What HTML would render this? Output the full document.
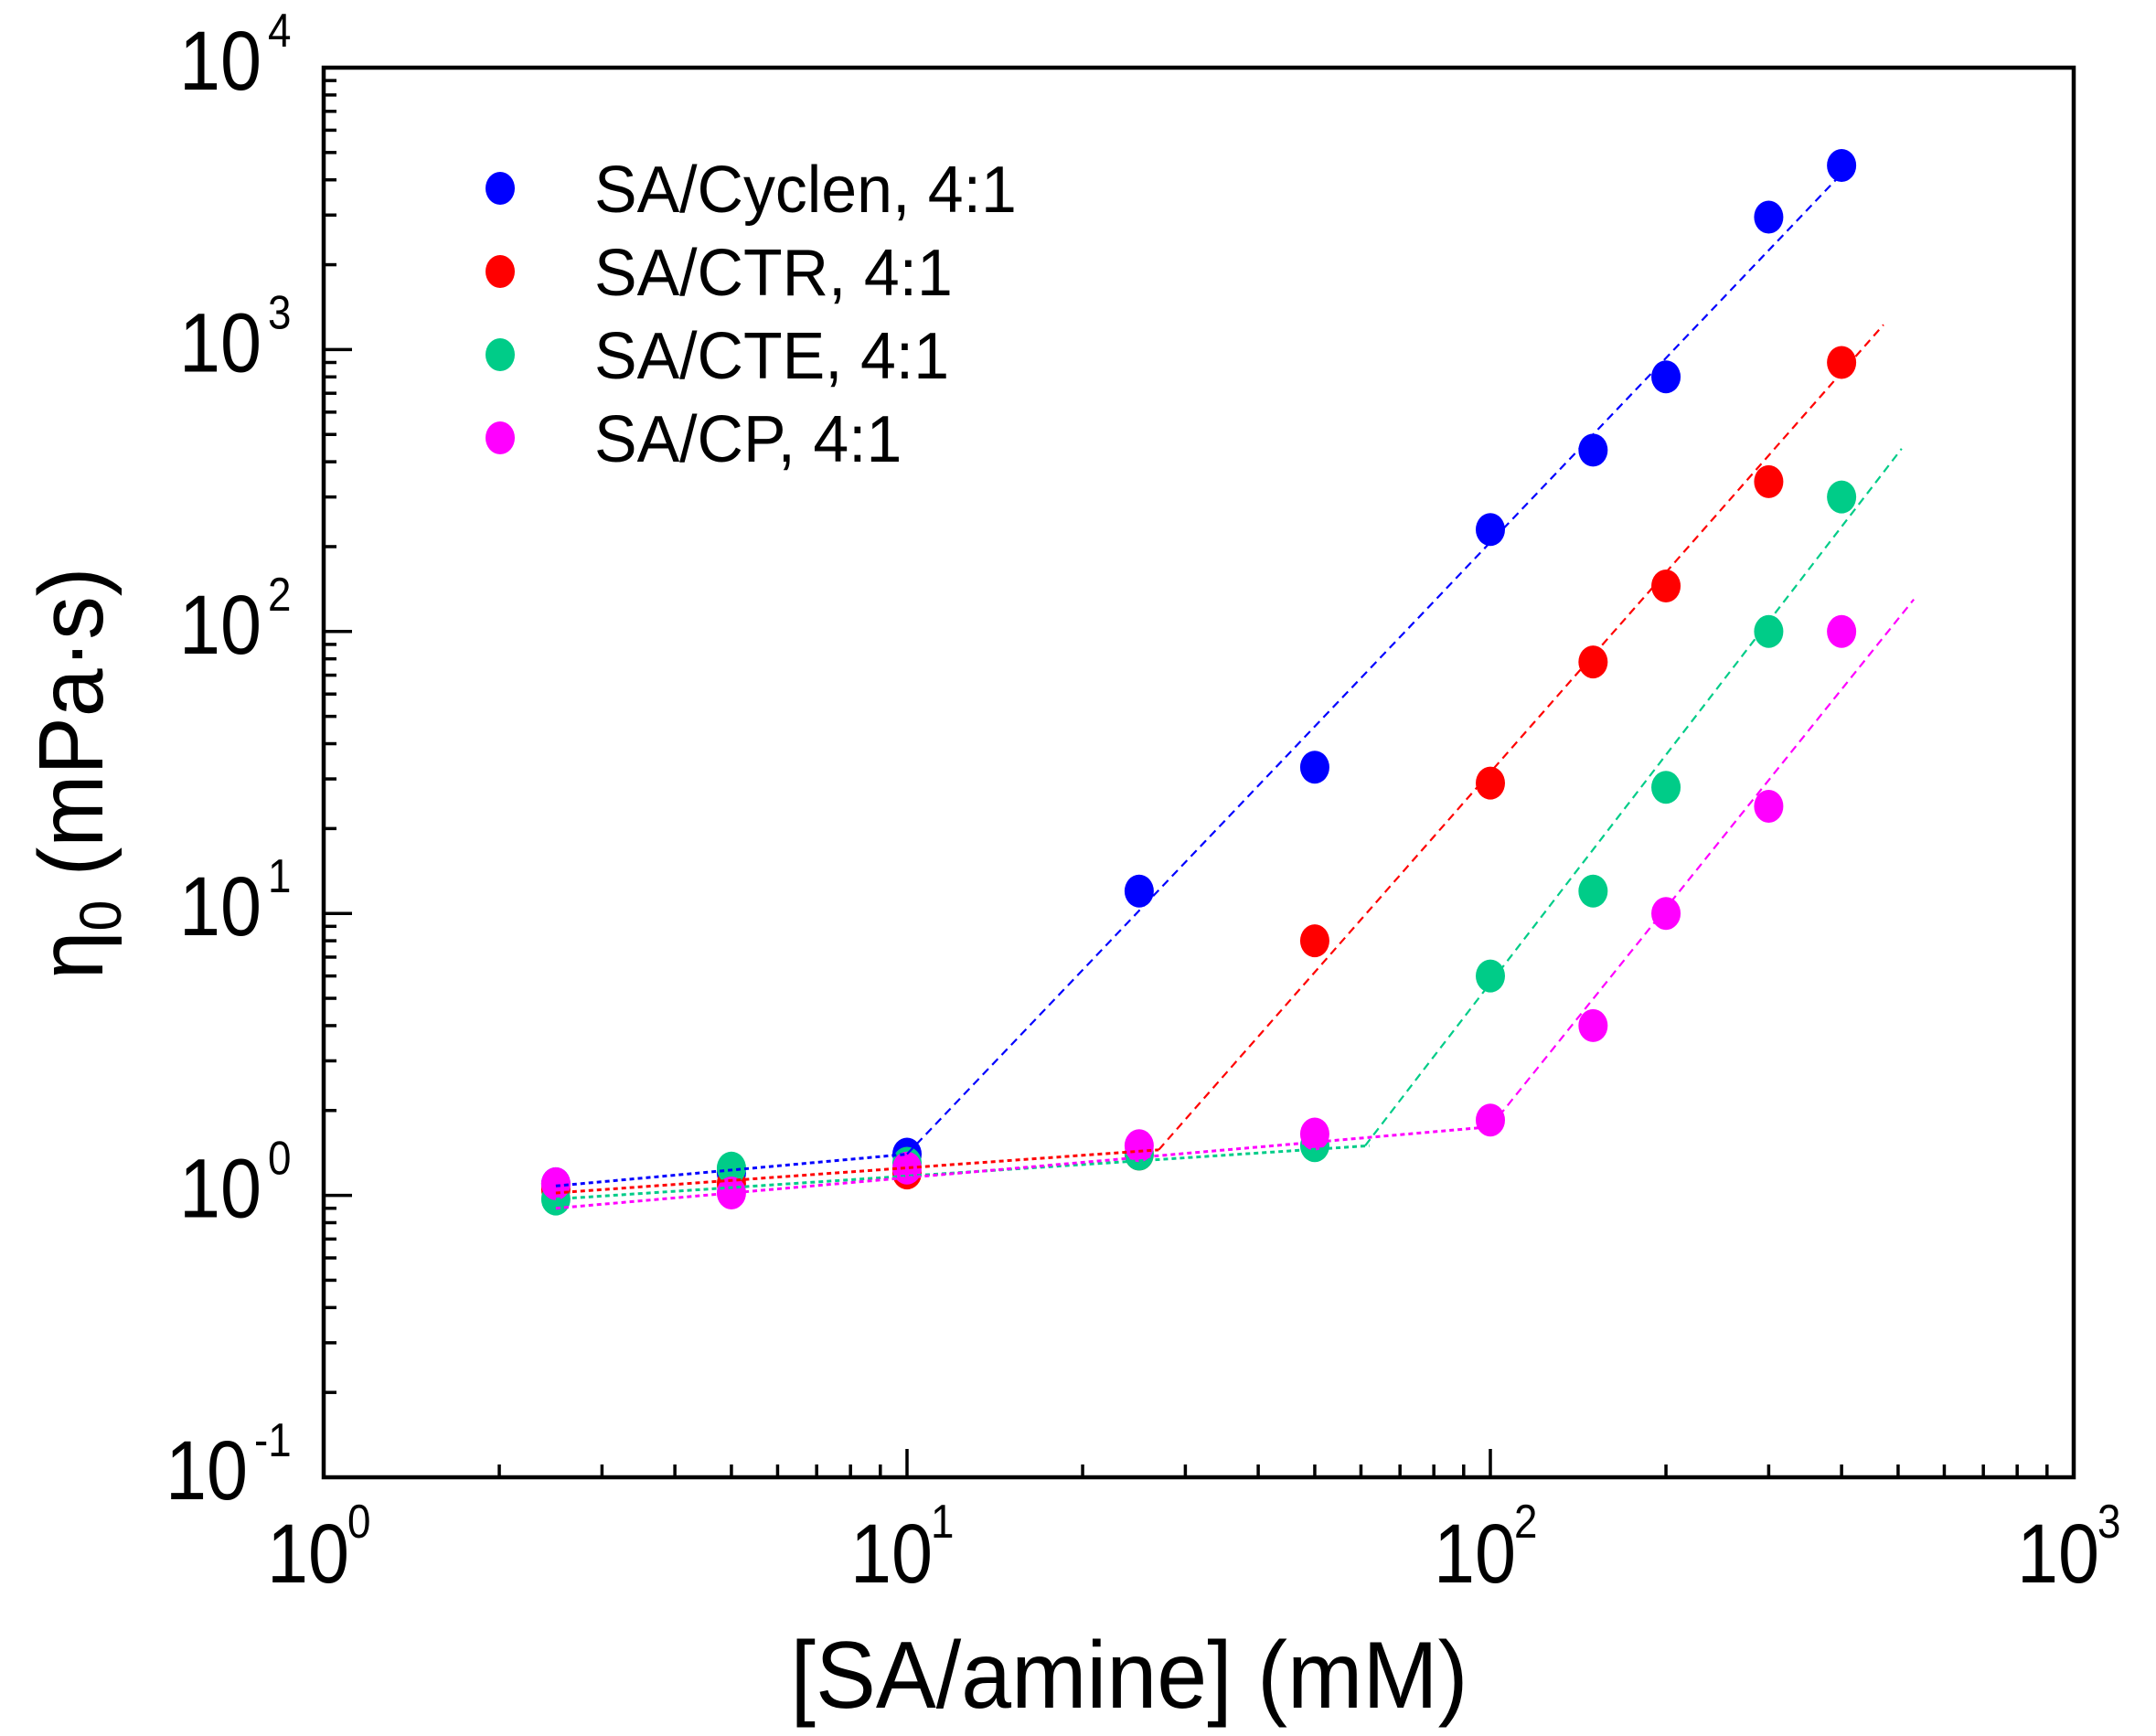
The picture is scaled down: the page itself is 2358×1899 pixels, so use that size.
<!DOCTYPE html>
<html><head><meta charset="utf-8"><style>
html,body{margin:0;padding:0;background:#fff;}
svg{display:block;font-family:"Liberation Sans",Arial,sans-serif;}
</style></head><body>
<svg id="s" width="2358" height="1899" viewBox="0 0 2358 1899" xmlns="http://www.w3.org/2000/svg"></svg>
<script>
const L=354,R=2268,T=74,B=1616;
const X=v=>L+(Math.log10(v))*((R-L)/3);
const Y=v=>B-(Math.log10(v)+1)*((B-T)/5);
let h='';
for(let d=0;d<3;d++)for(let k=1;k<10;k++){const v=k*Math.pow(10,d);const x=X(v);if(x<=L+1)continue;h+=`<line x1="${x}" y1="${B}" x2="${x}" y2="${B-(k==1?31:14)}" stroke="#000" stroke-width="3.5"/>`;}
for(let d=-1;d<4;d++)for(let k=1;k<10;k++){const v=k*Math.pow(10,d);const y=Y(v);if(y>=B-1)continue;h+=`<line x1="${L}" y1="${y}" x2="${L+(k==1?31:14)}" y2="${y}" stroke="#000" stroke-width="3.5"/>`;}
h+=`<rect x="${L}" y="${T}" width="${R-L}" height="${B-T}" fill="none" stroke="#000" stroke-width="4.5"/>`;
const T2=(x,y,fs,s,txt,anchor)=>`<text transform="translate(${x},${y}) scale(${s},1)" font-size="${fs}" text-anchor="${anchor||'start'}">${txt}</text>`;
for(let d=0;d<4;d++){const x=X(Math.pow(10,d));h+=T2(x-62,1731,92,0.88,'10')+T2(x+26,1682,52,0.88,d);}
for(let d=-1;d<5;d++){const y=Y(Math.pow(10,d));const sh=d<0?-15:0;h+=T2(286+sh,y+24,92,0.88,'10','end')+T2(293+sh,y-23,52,0.88,d);}
h+=`<text transform="translate(1235,1868) scale(0.95,1)" font-size="104" text-anchor="middle">[SA/amine] (mM)</text>`;
h+=`<text transform="translate(112,846) rotate(-90) scale(0.95,1)" font-size="100" text-anchor="middle">η<tspan dy="20" font-size="64">0</tspan><tspan dy="-20"> (mPa·s)</tspan></text>`;
const xs=[2.5,5,10,25,50,100,150,200,300,400];
const S=[
 ['#0000ff',[1.1,1.2,1.4,12,33,230,440,800,2950,4500],[[2.5,1.08],[10,1.4]],[[10,1.4],[403,4270]]],
 ['#ff0000',[1.05,1.1,1.2,1.4,8,29,78,145,340,900],[[2.5,1.02],[27,1.45]],[[27,1.45],[472,1225]]],
 ['#00cc88',[0.97,1.25,1.3,1.4,1.5,6,12,28,100,300],[[2.5,0.97],[62,1.5]],[[61,1.5],[507,445]]],
 ['#ff00ff',[1.1,1.02,1.25,1.5,1.65,1.85,4,10,24,100],[[2.5,0.9],[100,1.75]],[[100,1.75],[532,130]]]
];
let lines='',pts='';
S.forEach(([c,ys,a,b])=>{
 lines+=`<line x1="${X(a[0][0])}" y1="${Y(a[0][1])}" x2="${X(a[1][0])}" y2="${Y(a[1][1])}" stroke="${c}" stroke-width="3" stroke-dasharray="5,4"/>`;
 lines+=`<line x1="${X(b[0][0])}" y1="${Y(b[0][1])}" x2="${X(b[1][0])}" y2="${Y(b[1][1])}" stroke="${c}" stroke-width="2.2" stroke-dasharray="9,6"/>`;
 xs.forEach((x,i)=>{pts+=`<ellipse cx="${X(x)}" cy="${Y(ys[i])}" rx="16" ry="18" fill="${c}"/>`;});
});
h+=pts+lines;
const names=['SA/Cyclen, 4:1','SA/CTR, 4:1','SA/CTE, 4:1','SA/CP, 4:1'];
names.forEach((n,i)=>{const y=206+i*91;h+=`<ellipse cx="547" cy="${y}" rx="16" ry="18" fill="${S[i][0]}"/><text transform="translate(650,${y+26}) scale(0.97,1)" font-size="72">${n}</text>`;});
document.getElementById('s').innerHTML=h;
</script>
</body></html>
